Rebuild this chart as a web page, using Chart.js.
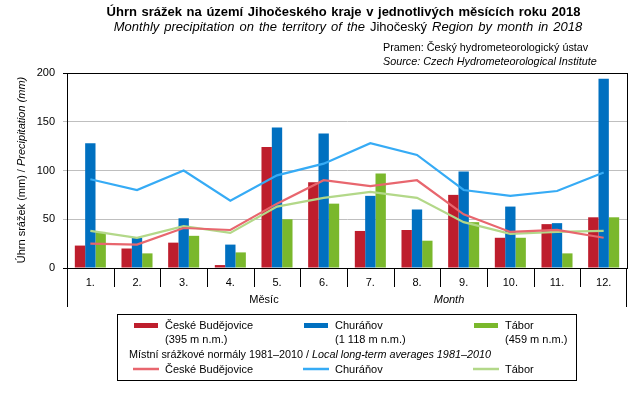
<!DOCTYPE html>
<html>
<head>
<meta charset="utf-8">
<script src="https://cdn.jsdelivr.net/npm/chart.js@4/dist/chart.umd.min.js"></script>
<style>
html,body{margin:0;padding:0;background:#fff;}
canvas{display:block;}
</style>
</head>
<body>
<canvas id="c" width="643" height="398"></canvas>
<script>
const months = ['1.','2.','3.','4.','5.','6.','7.','8.','9.','10.','11.','12.'];
const cbudejovice2018 = [23,20,26,3,124,88,38,39,75,31,45,52];
const churanov2018    = [128,31,51,24,144,138,74,60,99,63,46,194];
const tabor2018       = [37,15,33,16,50,66,97,28,47,31,15,52];
const cbudejoviceNorm = [25,24,41,39,66,90,84,90,55,37,39,31];
const churanovNorm    = [91,80,100,69,95,107,128,116,80,74,79,98];
const taborNorm       = [38,31,43,36,63,72,78,72,47,35,37,38];
const yTicks = [0,50,100,150,200];

const FONT = '"Liberation Sans", Arial, sans-serif';
const C_RED='#BE1E2D', C_BLUE='#0070C0', C_GREEN='#7AB82C';
const L_RED='#E8666E', L_BLUE='#36ABF5', L_GREEN='#B3D889';

function drawMixed(ctx, parts, x, y, align, ws){
  ctx.wordSpacing = (ws||0)+'px';
  let total=0;
  parts.forEach(p=>{ctx.font=p[1]; total+=ctx.measureText(p[0]).width;});
  let cx = align==='center' ? x-total/2 : x;
  ctx.textAlign='left';
  parts.forEach(p=>{ctx.font=p[1]; ctx.fillText(p[0],cx,y); cx+=ctx.measureText(p[0]).width;});
  ctx.wordSpacing='0px';
}

const decor = {
  id:'decor',
  afterDraw(chart){
    const ctx=chart.ctx, a=chart.chartArea, xs=chart.scales.x;
    ctx.save();
    ctx.strokeStyle='#000'; ctx.lineWidth=1;
    ctx.strokeRect(Math.round(a.left)+0.5, Math.round(a.top)+0.5, Math.round(a.right-a.left), Math.round(a.bottom-a.top));
    ctx.beginPath();
    for(let i=1;i<months.length;i++){
      const px=Math.round((xs.getPixelForValue(i-1)+xs.getPixelForValue(i))/2)+0.5;
      ctx.moveTo(px,a.bottom); ctx.lineTo(px,a.bottom+19);
    }
    ctx.moveTo(Math.round(a.left)+0.5,a.bottom); ctx.lineTo(Math.round(a.left)+0.5,a.bottom+39);
    ctx.moveTo(Math.round(a.right)-0.5,a.bottom); ctx.lineTo(Math.round(a.right)-0.5,a.bottom+39);
    ctx.stroke();

    ctx.fillStyle='#000';
    ctx.textBaseline='alphabetic';
    drawMixed(ctx,[['Úhrn srážek na území Jihočeského kraje v jednotlivých měsících roku 2018','bold 13px '+FONT]],343.5,16,'center',1);
    drawMixed(ctx,[['Monthly precipitation on the territory of the ','italic 13px '+FONT],['Jihočeský','13px '+FONT],[' Region by month in 2018','italic 13px '+FONT]],348,31,'center',1.4);
    drawMixed(ctx,[['Pramen: Český hydrometeorologický ústav','10.8px '+FONT]],383,51,'left');
    drawMixed(ctx,[['Source: Czech Hydrometeorological Institute','italic 10.8px '+FONT]],383,65,'left');
    drawMixed(ctx,[['Měsíc','11px '+FONT]],264,303,'center');
    drawMixed(ctx,[['Month','italic 11px '+FONT]],449,303,'center');
    ctx.save();
    ctx.translate(25,170); ctx.rotate(-Math.PI/2);
    drawMixed(ctx,[['Úhrn srážek (mm) / ','11px '+FONT],['Precipitation (mm)','italic 11px '+FONT]],0,0,'center');
    ctx.restore();

    ctx.strokeStyle='#000'; ctx.lineWidth=1;
    ctx.strokeRect(117.5,314.5,459,66);
    const cols=[[134,165],[304,335],[474,505]];
    const bars=[[C_RED,'České Budějovice','(395 m n.m.)'],[C_BLUE,'Churáňov','(1 118 m n.m.)'],[C_GREEN,'Tábor','(459 m n.m.)']];
    const lines=[[L_RED,'České Budějovice'],[L_BLUE,'Churáňov'],[L_GREEN,'Tábor']];
    ctx.font='11px '+FONT; ctx.textBaseline='middle';
    bars.forEach((b,i)=>{
      ctx.fillStyle=b[0]; ctx.fillRect(cols[i][0],323,24,5);
      ctx.fillStyle='#000'; ctx.font='11px '+FONT; ctx.fillText(b[1],cols[i][1],325.5); ctx.fillText(b[2],cols[i][1],339.5);
    });
    drawMixed(ctx,[['Místní srážkové normály 1981–2010 / ','10.8px '+FONT],['Local long-term averages 1981–2010','italic 10.8px '+FONT]],129,355,'left');
    lines.forEach((l,i)=>{
      ctx.strokeStyle=l[0]; ctx.lineWidth=2.5; ctx.beginPath();
      ctx.moveTo(cols[i][0]-1,369); ctx.lineTo(cols[i][0]+25,369); ctx.stroke();
      ctx.fillStyle='#000'; ctx.font='11px '+FONT; ctx.fillText(l[1],cols[i][1],369.5);
    });
    ctx.restore();
  }
};

const barDs=(label,data,color)=>({type:'bar',label,data,backgroundColor:color,borderWidth:0,order:2,categoryPercentage:0.665,barPercentage:1.0});
const lineDs=(label,data,color)=>({type:'line',label,data,borderColor:color,borderWidth:2.2,pointRadius:0,tension:0,fill:false,order:1});

new Chart(document.getElementById('c'),{
  data:{
    labels:months,
    datasets:[
      lineDs('České Budějovice normál',cbudejoviceNorm,L_RED),
      lineDs('Churáňov normál',churanovNorm,L_BLUE),
      lineDs('Tábor normál',taborNorm,L_GREEN),
      barDs('České Budějovice',cbudejovice2018,C_RED),
      barDs('Churáňov',churanov2018,C_BLUE),
      barDs('Tábor',tabor2018,C_GREEN)
    ]
  },
  options:{
    responsive:false, animation:false, devicePixelRatio:1,
    layout:{padding:{left:0,right:16,top:73,bottom:0}},
    plugins:{legend:{display:false},tooltip:{enabled:false},title:{display:false}},
    scales:{
      x:{
        grid:{display:false,drawTicks:false},
        border:{display:true,color:'#000',width:1},
        ticks:{color:'#000',font:{family:FONT,size:11},padding:8,maxRotation:0},
        afterFit(s){s.height=130;}
      },
      y:{
        min:0,max:200,
        afterBuildTicks(s){s.ticks=yTicks.map(v=>({value:v}));},
        grid:{color:(c)=>(c.tick&&(c.tick.value===0||c.tick.value===200))?'rgba(0,0,0,0)':'#BFBFBF',tickColor:(c)=>(c.tick&&(c.tick.value===0||c.tick.value===200))?'#000':'#BFBFBF',tickLength:4,lineWidth:1},
        border:{display:true,color:'#000',width:1},
        ticks:{color:'#000',font:{family:FONT,size:11},padding:8},
        afterFit(s){s.width=67;}
      }
    }
  },
  plugins:[decor]
});
</script>
</body>
</html>
